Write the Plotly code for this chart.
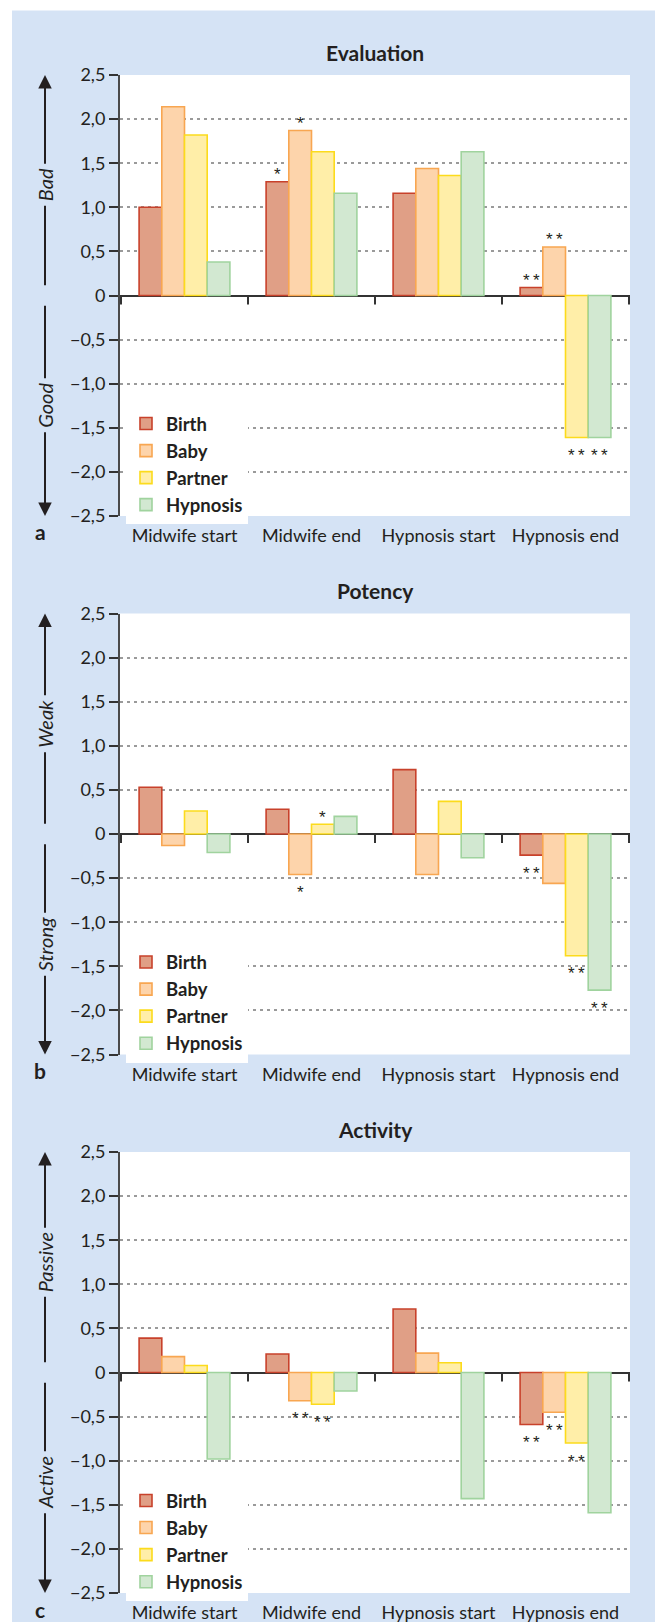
import plotly.graph_objects as go

# ---------------- data ----------------
categories = ["Midwife start", "Midwife end", "Hypnosis start", "Hypnosis end"]
series_names = ["Birth", "Baby", "Partner", "Hypnosis"]
panel_titles = ["Evaluation", "Potency", "Activity"]
panel_letters = ["a", "b", "c"]
upper_labels = ["Bad", "Weak", "Passive"]
lower_labels = ["Good", "Strong", "Active"]

evaluation_birth = [1.00, 1.29, 1.16, 0.09]
evaluation_baby = [2.14, 1.87, 1.44, 0.55]
evaluation_partner = [1.82, 1.63, 1.36, -1.61]
evaluation_hypnosis = [0.38, 1.16, 1.63, -1.61]

potency_birth = [0.53, 0.28, 0.73, -0.24]
potency_baby = [-0.13, -0.46, -0.46, -0.56]
potency_partner = [0.26, 0.11, 0.37, -1.38]
potency_hypnosis = [-0.21, 0.20, -0.27, -1.77]

activity_birth = [0.39, 0.21, 0.72, -0.59]
activity_baby = [0.18, -0.32, 0.22, -0.45]
activity_partner = [0.08, -0.36, 0.11, -0.80]
activity_hypnosis = [-0.98, -0.21, -1.43, -1.59]

# significance marks: (category index, series index, label)
evaluation_marks = [(1, 0, "*"), (1, 1, "*"), (3, 0, "**"), (3, 1, "**"), (3, 2, "**"), (3, 3, "**")]
potency_marks = [(1, 1, "*"), (1, 2, "*"), (3, 0, "**"), (3, 2, "**"), (3, 3, "**")]
activity_marks = [(1, 1, "**"), (1, 2, "**"), (3, 0, "**"), (3, 1, "**"), (3, 2, "**")]

y_tick_values = [2.5, 2.0, 1.5, 1.0, 0.5, 0, -0.5, -1.0, -1.5, -2.0, -2.5]
y_tick_labels = ["2,5", "2,0", "1,5", "1,0", "0,5", "0", "\u22120,5", "\u22121,0", "\u22121,5", "\u22122,0", "\u22122,5"]

panels = [
    [evaluation_birth, evaluation_baby, evaluation_partner, evaluation_hypnosis],
    [potency_birth, potency_baby, potency_partner, potency_hypnosis],
    [activity_birth, activity_baby, activity_partner, activity_hypnosis],
]
panel_marks = [evaluation_marks, potency_marks, activity_marks]

# ---------------- style ----------------
W, H = 655, 1622
FONT = "Lato, 'Liberation Sans', Arial, sans-serif"
STAR_FONT = "'Liberation Sans', Arial, sans-serif"
TXT = "#231f20"
BLUE = "#d5e3f5"
fills = ["#e09f86", "#fdd4ab", "#ffeea8", "#d2e8d1"]
lines = ["#c8412b", "#f8a651", "#fcdb1c", "#a0d39e"]
BARGAP = 0.285
PLOT_L, PLOT_R = 120, 630
PLOT_TOPS = [75, 613.5, 1152]
PLOT_H = 441

def py(px):
    return 1 - px / H

fig = go.Figure()
layout_extra = {}
annotations = []
shapes = []

for p in range(3):
    sfx = "" if p == 0 else str(p + 1)
    xa, ya = "x" + sfx, "y" + sfx
    leg = "legend" + sfx
    for s in range(4):
        fig.add_trace(go.Bar(
            x=categories, y=panels[p][s], name=series_names[s],
            xaxis=xa, yaxis=ya, legend=leg,
            marker=dict(color=fills[s], line=dict(color=lines[s], width=1.6)),
            hoverinfo="skip",
        ))
    top = PLOT_TOPS[p]
    bottom = top + PLOT_H
    layout_extra["xaxis" + sfx] = dict(
        domain=[PLOT_L / W, PLOT_R / W], anchor=ya, showgrid=False, showline=False,
        ticks="", tickfont=dict(size=18, color=TXT, family=FONT), ticklabelstandoff=7,
        fixedrange=True, automargin=False,
    )
    layout_extra["yaxis" + sfx] = dict(
        domain=[py(bottom), py(top)], anchor=xa, range=[-2.5, 2.5],
        tickvals=y_tick_values, ticktext=y_tick_labels,
        tickfont=dict(size=18, color=TXT, family=FONT),
        showline=True, linecolor="#4a4a4a", linewidth=2,
        ticks="outside", ticklen=9, tickwidth=2, tickcolor="#333333",
        showgrid=True, gridcolor="#9a9a9a", gridwidth=1.5, griddash="3px,4px",
        zeroline=True, zerolinecolor="#333333", zerolinewidth=2, fixedrange=True,
        automargin=False,
    )
    layout_extra[leg] = dict(
        x=126 / W, xanchor="left", y=py(top + 330), yanchor="top",
        bgcolor="white", borderwidth=0, traceorder="normal",
        font=dict(size=18.5, color=TXT, family=FONT, weight="bold"),
        itemclick=False, itemdoubleclick=False,
    )
    # category boundary ticks on the zero line
    for k in range(len(categories) + 1):
        shapes.append(dict(type="line", xref=xa, yref=ya, x0=k - 0.5, x1=k - 0.5,
                           ysizemode="pixel", yanchor=0, y0=0, y1=-9,
                           line=dict(color="#333333", width=2)))
    # title
    annotations.append(dict(text="<b>" + panel_titles[p] + "</b>", xref="x" + sfx + " domain", x=0.5,
                            xanchor="center", yref=ya + " domain", y=1, yshift=23, yanchor="middle",
                            showarrow=False, font=dict(size=21, color=TXT, family=FONT)))
    # panel letter
    annotations.append(dict(text="<b>" + panel_letters[p] + "</b>", xref="paper", x=40 / W, xanchor="center",
                            yref=ya + " domain", y=0, yshift=-16, yanchor="middle", showarrow=False,
                            font=dict(size=21, color=TXT, family=FONT)))
    # side arrows
    for tip, tail, lab, mid in [(2.5, 0.1, upper_labels[p], 1.25), (-2.5, -0.1, lower_labels[p], -1.25)]:
        annotations.append(dict(text="", xref="paper", x=45 / W, yref=ya, y=tip,
                                axref="pixel", ax=0, ayref=ya, ay=tail, showarrow=True,
                                arrowhead=2, arrowsize=1.35, arrowwidth=2, arrowcolor=TXT, standoff=0))
        annotations.append(dict(text="<i>" + lab + "</i>", xref="paper", x=45 / W, xanchor="center",
                                yref=ya, y=mid, yanchor="middle",
                                textangle=-90, showarrow=False, bgcolor=BLUE, borderpad=4,
                                font=dict(size=20, color=TXT, family=FONT)))
    # significance marks
    bw = (1 - BARGAP) / 4
    for ci, si, lab in panel_marks[p]:
        v = panels[p][si][ci]
        annotations.append(dict(text="\u2009".join(lab), xref=xa, x=ci + (si - 1.5) * bw, xanchor="center",
                                yref=ya, y=v, yanchor="middle", yshift=(7 if v >= 0 else -18),
                                showarrow=False, font=dict(size=17, color=TXT, family=STAR_FONT)))

# white outer margin strips (top and left)
shapes.append(dict(type="rect", xref="paper", yref="paper", x0=0, x1=12 / W, y0=0, y1=1,
                   fillcolor="white", line=dict(width=0), layer="above"))
shapes.append(dict(type="rect", xref="paper", yref="paper", x0=0, x1=1, y0=py(10.5), y1=1,
                   fillcolor="white", line=dict(width=0), layer="above"))

fig.update_layout(
    width=W, height=H, margin=dict(l=0, r=0, t=0, b=0, autoexpand=False),
    paper_bgcolor=BLUE, plot_bgcolor="white",
    barmode="group", bargap=BARGAP, bargroupgap=0,
    font=dict(family=FONT, color=TXT),
    annotations=annotations, shapes=shapes, showlegend=True,
    **layout_extra,
)

fig.write_html(
    "out.html",
    config={"displayModeBar": False},
    post_script="document.body.style.margin='0';document.body.style.padding='0';"
                "document.documentElement.style.margin='0';document.body.style.overflow='hidden';",
)
